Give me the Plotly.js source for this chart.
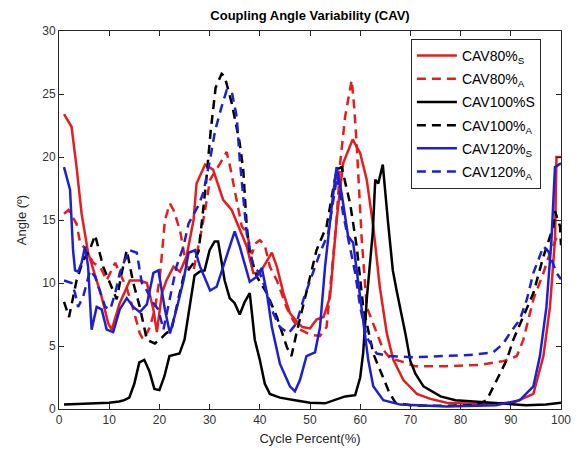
<!DOCTYPE html>
<html>
<head>
<meta charset="utf-8">
<script src="https://cdn.plot.ly/plotly-3.0.1.min.js"></script>
<style>html,body{margin:0;padding:0;background:#fff;}#chart{width:581px;height:458px;}</style>
</head>
<body>
<div id="chart"></div>
<script>
// ---- data ----
const seriesNames = ["CAV80%<sub>S</sub>", "CAV80%<sub>A</sub>", "CAV100%S", "CAV100%<sub>A</sub>", "CAV120%<sub>S</sub>", "CAV120%<sub>A</sub>"];

const r80sX = [1,2.5,3.5,4.5,5.8,7.2,8.5,9.8,10.5,12.1,14.1,16.1,17.5,18.8,19.5,20.5,21.4,22.8,24.1,25.4,26.8,27.4,29.1,30.7,32.7,34.4,35.7,37.4,38.7,40,42.4,43.4,44.7,46,47.7,48.5,50,51.3,52.7,54,55.3,56.6,58.5,60,61.3,62.6,63.9,65.3,66.6,68.6,71.3,74,77.2,83.9,90.5,94.5,96.5,97.8,98.8,99.1,100];
const r80sY = [23.4,22.4,19.2,15.5,12.4,10.5,8.9,6.8,6.3,8.4,10.2,10.2,10,7.9,6.1,9.2,10.2,11.3,10.9,12.1,15,17.9,19.4,19,16.6,15.8,14.5,12.9,10.8,10.8,12.4,11.3,9.2,7.6,6.8,6.5,6.4,7.1,7.3,8.9,15,19.5,21.4,20.3,18.2,14.5,9.7,6,3.9,2.3,1.2,0.8,0.5,0.4,0.5,1.2,4.2,8.1,13.4,20,20];

const r80aX = [1,1.9,3.5,4.2,5.5,6.8,8.2,9.5,10.8,11.2,12.1,13.5,14.8,16.1,16.8,18.1,19.1,20.1,21.1,22.1,22.8,24.1,24.8,25.4,26.8,27.4,28.4,29.1,30.1,32.1,33.4,34.1,35.4,36.4,37.4,38.4,39.3,40,41,42,43.4,45.4,46.7,48,50,52,53.3,54,55.3,56,57,58.3,58.8,59.3,59.8,60.3,61.3,63.3,64.6,66,68,70.9,77.2,83.9,88.5,91.2,92.5,94.5,96.5,97.8,99,100];
const r80aY = [15.5,15.8,14.7,13.2,12.6,11.6,11.3,10.2,11.3,11.6,10.8,9.6,7.9,6,5.5,6.5,7.9,10.5,15,16.3,15.8,14.2,12.6,11.3,11,12.1,14.2,15.8,18.2,19.5,20.4,19.2,16.6,14.5,14,12.3,13.2,13.4,13,11.3,10.2,8,7,6.3,5.9,5.8,6.5,9.7,15,19.5,23.2,26.1,24,21,17.5,13.5,8.1,6,4.7,4,3.8,3.4,3.4,3.5,3.8,4.2,5.5,8.7,10.8,12.4,13.5,13.2];

const k100sX = [1,5,10,12,13,14,15,16,17,18,19,20,21,22,24,25,26,27,28,29,30,31,31.7,33,34,35,36,37,38,38.5,39,40,41,42,44,47,50,53,55,57,59,60,60.6,61.3,62.5,63,63.6,64.5,65.5,66.5,67.3,68,69,70,71,72.6,76,79,83,87,93,97,100];
const k100sY = [0.35,0.4,0.5,0.6,0.7,0.9,2,3.7,3.9,3,1.6,1.5,2.6,4.2,4.4,5.5,8,10.6,10.9,11,12.6,13.3,13.3,10.2,8.8,8.4,7.5,8.5,9.2,7.5,5.5,3.9,2,1.2,0.9,0.7,0.5,0.45,0.7,1,1.1,2.5,4.5,8.7,14,18.2,17.9,19.4,15,11,9.3,8,6,3.8,2.8,1.8,1,0.7,0.6,0.5,0.3,0.35,0.5];

const k100aX = [1,2,3.5,4.8,6,7.2,8.8,10.2,11.5,12.5,13.5,14.8,16.1,17.5,19.1,20.1,21.3,22.4,23.6,24.8,26.8,27.8,28.5,29.3,30.2,31.2,32.4,33,34.4,36,36.7,37.4,38,39.4,41.4,43.4,45.4,46.3,47.3,49.3,51.3,53.3,55.3,56.3,58,59.3,60.6,62.6,64,65.7,67,70,75,80,83,85.2,87.2,89.2,90.5,92.5,94.5,96.5,98.5,98.8,99.8,100];
const k100aY = [8.5,7.3,10.2,11.8,12.5,13.8,11.3,10,8.7,10.8,12.6,10,8.1,5.5,5.2,5.5,6,6.3,8.5,10.5,11.6,12.5,15,18,22,25.5,26.6,26.4,24.3,21.1,19,14.5,12.4,10.5,9.2,7.3,4.9,4.2,6,9.4,12.6,14.5,19,19.2,16.3,12.9,8.1,4.4,3,1.4,0.5,0.3,0.25,0.25,0.3,0.7,2.3,3.9,5.5,7.3,9.2,12.1,14.5,15.7,14.5,13];

const b120sX = [1,2.2,2.8,3.2,3.8,4.5,5.2,5.8,6.5,7.5,8.5,9.5,10.8,12.1,13.5,14.8,16.1,17.5,18.8,19.8,21.1,22.1,23.4,24.8,25.8,27.1,28.1,30.1,31.4,33.4,35,36,38,39.4,40.4,41.4,42.4,44,46,47,48,49.3,51,52,53,54.3,55.3,56.3,57.6,58.6,59.6,60.6,61.6,62.6,64.6,68,77.2,87,91.8,94.5,95.8,97.1,98.1,98.8,100];
const b120sY = [19.2,17.4,12.6,11,10.9,11.6,12.9,11.3,6.3,8.1,7.9,6.3,6.1,7.9,8.8,8.1,7.7,8.3,10.8,11,7.9,6,7.9,10.2,12.4,12.6,11.3,9.4,9.7,12.1,14.1,12.9,10.1,10.5,11.2,9.2,6.5,3.6,1.8,1.4,2.3,4.2,4.5,6.5,11.3,16,19.2,17.1,13.7,13.2,10.2,7.1,3.9,1.8,0.7,0.35,0.2,0.3,0.7,1.8,4.2,8.1,13.4,19.2,19.5];

const b120aX = [1,2.5,3.2,3.8,4.8,5.5,6.2,7.2,8.5,9.2,10.2,11.2,12.1,13.1,14.1,15.5,16.5,17.5,18.8,19.8,20.8,22.1,23.4,24.8,25.8,27.7,28.7,30.1,31.1,32.4,33.4,34.4,35.4,36,36.7,37.4,38.7,40,41.4,42.7,44,45.7,46.7,47.3,48.7,50,52,53.6,54.6,55.4,56.6,58,59,60,61.3,63.3,65.9,70.6,77.2,82.5,86.5,88.5,89.8,91.8,93.2,94.5,96.5,97.5,99.1,100];
const b120aY = [10.2,10,9.2,8.1,8.9,10,11,10.5,8.9,8.1,7.9,9.2,10.8,11.8,12.6,12.4,10,9.4,8.4,7.9,6.3,8.9,11.3,12.9,14.7,16.1,17.1,19.8,22.1,24,25.3,25.2,23.2,19.8,16.6,13.9,11.3,10.8,9.2,7.6,6.5,6,6.5,6.8,8.7,10.2,12.4,13.9,16.5,18.5,15.5,12.9,10.8,8.1,5.7,4.4,4.2,4.1,4.2,4.3,4.5,5.2,6,7.1,8.7,10.8,12.9,12.5,10.8,10.3];

const xTicks = [0,10,20,30,40,50,60,70,80,90,100];
const yTicks = [0,5,10,15,20,25,30];

// ---- styles ----
const RED = '#e41e1e', BLACK = '#000000', BLUE = '#1f1fd2';
const DASH = '9px,6px';
const series = [
  {x: r80sX, y: r80sY, color: RED, dash: 'solid'},
  {x: r80aX, y: r80aY, color: RED, dash: DASH},
  {x: k100sX, y: k100sY, color: BLACK, dash: 'solid'},
  {x: k100aX, y: k100aY, color: BLACK, dash: DASH},
  {x: b120sX, y: b120sY, color: BLUE, dash: 'solid'},
  {x: b120aX, y: b120aY, color: BLUE, dash: DASH}
];
const traces = series.map((s, i) => ({
  type: 'scatter', mode: 'lines', x: s.x, y: s.y, name: seriesNames[i],
  legendgroup: 'g' + i,
  line: {color: s.color, width: 2.5, dash: s.dash}
}));

const FONT = 'Liberation Sans, Arial, Helvetica, sans-serif';
const axisCommon = {
  showline: true, linecolor: '#262626', linewidth: 1, mirror: 'ticks',
  ticks: 'inside', ticklen: 5, tickcolor: '#262626', tickwidth: 1,
  showgrid: false, zeroline: false,
  tickfont: {family: FONT, size: 12, color: '#333333'}
};
const layout = {
  width: 581, height: 458,
  margin: {l: 59, r: 20, t: 31, b: 49},
  paper_bgcolor: '#ffffff', plot_bgcolor: '#ffffff',
  title: {text: '<b>Coupling Angle Variability (CAV)</b>', font: {family: FONT, size: 13, color: '#000'},
          x: 0.5, xref: 'paper', y: 1 - 15/458, yref: 'container', yanchor: 'middle'},
  xaxis: Object.assign({}, axisCommon, {range: [0, 100], tickvals: xTicks, ticktext: xTicks.map(String),
          title: {text: 'Cycle Percent(%)', font: {family: FONT, size: 13, color: '#262626'}, standoff: 7}}),
  yaxis: Object.assign({}, axisCommon, {range: [0, 30], tickvals: yTicks, ticktext: yTicks.map(String),
          title: {text: 'Angle (º)', font: {family: FONT, size: 13, color: '#262626'}, standoff: 12}}),
  legend: {x: 0.701, y: 0.979, xanchor: 'left', yanchor: 'top', bgcolor: '#ffffff',
           bordercolor: '#262626', borderwidth: 1, tracegroupgap: 2, itemwidth: 40,
           font: {family: FONT, size: 14, color: '#000'}},
  showlegend: true
};
Plotly.newPlot('chart', traces, layout, {staticPlot: true, displayModeBar: false});
</script>
</body>
</html>
